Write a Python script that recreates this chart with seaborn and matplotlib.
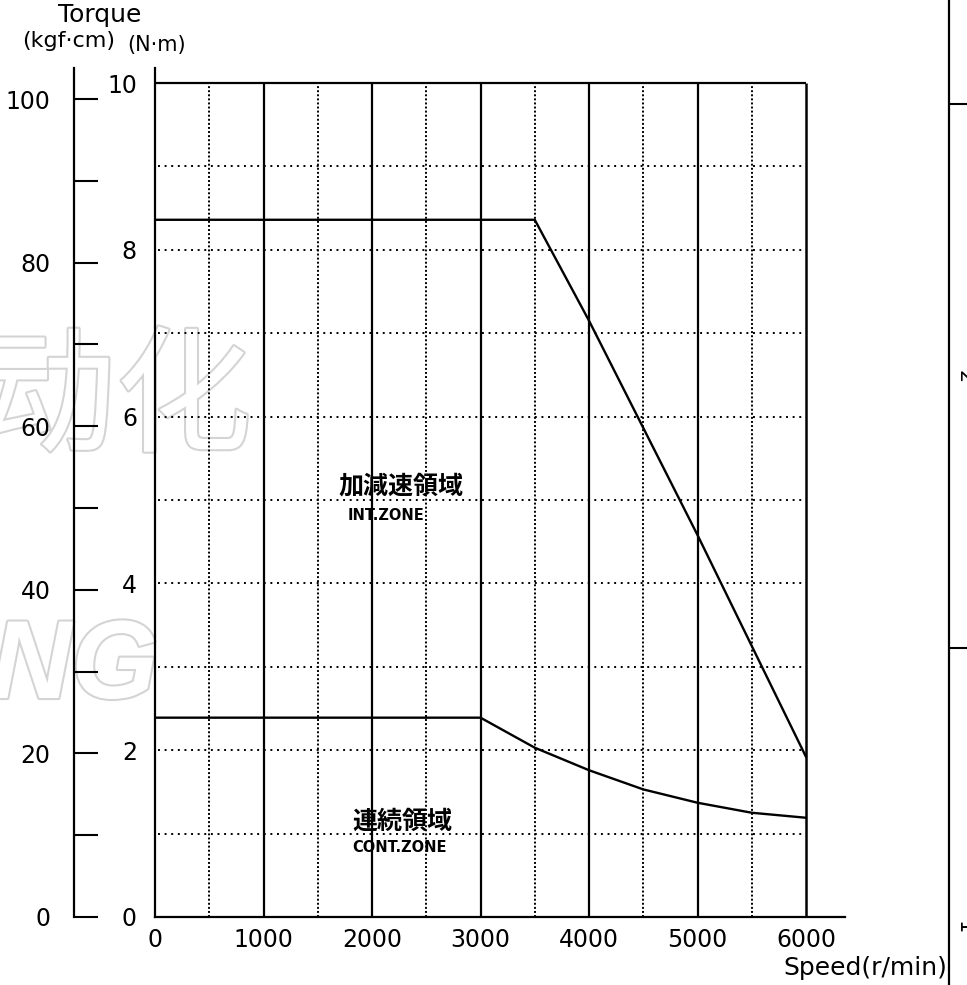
import numpy as np
import pandas as pd
import seaborn as sns
import matplotlib.pyplot as plt
import matplotlib.patheffects as pe

sns.set_theme(style='white', rc={'axes.edgecolor': 'black', 'text.color': 'black',
                                  'xtick.color': 'black', 'ytick.color': 'black'})
plt.rcParams['font.family'] = ['DejaVu Sans', 'Noto Sans CJK JP']

# torque curves (N·m)
peak_speed = [0, 3500, 4000, 5000, 6000]
peak_torque = [8.36, 8.36, 7.15, 4.58, 1.92]
cont_speed = [0, 3000, 3500, 4000, 4500, 5000, 5500, 6000]
cont_torque = [2.39, 2.39, 2.03, 1.76, 1.53, 1.37, 1.25, 1.19]

x_ticks = [0, 1000, 2000, 3000, 4000, 5000, 6000]
x_major_grid = [1000, 2000, 3000, 4000, 5000]
x_minor_grid = [500, 1500, 2500, 3500, 4500, 5500]
nm_ticks = [0, 2, 4, 6, 8, 10]
nm_grid = [1, 2, 3, 4, 5, 6, 7, 8, 9]
kgf_ticks = [0, 10, 20, 30, 40, 50, 60, 70, 80, 90, 100]
kgf_labels = ['0', '', '20', '', '40', '', '60', '', '80', '', '100']
KGF_PER_NM = 10.197

W, H = 967, 985
x_max = 6000 * 690 / 651
y_max = 849 / 83.4

fig = plt.figure(figsize=(W / 100, H / 100), dpi=100)
fig.patch.set_facecolor('white')

# watermark
fig.text(252 / W, 1 - 402 / H, '自动化', ha='right', va='center', fontsize=98,
         family=['Noto Sans CJK SC'], color='white', zorder=-5,
         path_effects=[pe.withStroke(linewidth=3, foreground='#d4d4d4')])
fig.text(158 / W, 1 - 698 / H, 'ING', ha='right', va='baseline', fontsize=80,
         family=['Liberation Sans', 'DejaVu Sans'], style='italic', fontweight='bold',
         color='white', zorder=-5,
         path_effects=[pe.withStroke(linewidth=3, foreground='#d4d4d4')])

ax = fig.add_axes([155 / W, 68 / H, 690 / W, 849 / H])
ax.set_facecolor('none')
ax.set_xlim(0, x_max)
ax.set_ylim(0, y_max)

ax.vlines(x_major_grid, 0, 10, color='black', lw=1.6)
ax.vlines(x_minor_grid, 0, 10, color='black', lw=1.4, linestyles=[(0, (1, 1.1))])
ax.hlines(nm_grid, 30, 5970, color='black', lw=1.4, linestyles=[(0, (1, 2.4))])
ax.hlines([10], 0, 6000, color='black', lw=1.6)
ax.vlines([6000], 0, 10, color='black', lw=1.8)

peak = pd.DataFrame({'speed': peak_speed, 'torque': peak_torque})
cont = pd.DataFrame({'speed': cont_speed, 'torque': cont_torque})
sns.lineplot(data=peak, x='speed', y='torque', ax=ax, color='black', lw=1.7, estimator=None, sort=False)
sns.lineplot(data=cont, x='speed', y='torque', ax=ax, color='black', lw=1.7, estimator=None, sort=False)

for s in ['top', 'right']:
    ax.spines[s].set_visible(False)
for s in ['left', 'bottom']:
    ax.spines[s].set_linewidth(1.6)

ax.set_xticks(x_ticks)
ax.set_xticklabels([str(v) for v in x_ticks], fontsize=17)
ax.set_yticks(nm_ticks)
ax.set_yticklabels([str(v) for v in nm_ticks], fontsize=17)
ax.tick_params(axis='x', length=0, pad=8)
ax.tick_params(axis='y', length=0, pad=13)
ax.set_xlabel('')
ax.set_ylabel('')

ax.text(1687, 5.16, '加減速領域', fontsize=18, family=['Noto Sans CJK JP'],
        fontweight='bold', ha='left', va='center')
ax.text(1779, 4.82, 'INT.ZONE', fontsize=10.5, fontweight='bold', ha='left', va='center')
ax.text(1816, 1.14, '連続領域', fontsize=18, family=['Noto Sans CJK JP'],
        fontweight='bold', ha='left', va='center')
ax.text(1816, 0.83, 'CONT.ZONE', fontsize=10.5, fontweight='bold', ha='left', va='center')

# kgf·cm scale
ax2 = fig.add_axes([74 / W, 68 / H, 20 / W, 849 / H])
ax2.set_facecolor('none')
ax2.set_ylim(0, y_max * KGF_PER_NM)
ax2.set_xticks([])
ax2.set_yticks(kgf_ticks)
ax2.set_yticklabels(kgf_labels, fontsize=17)
ax2.tick_params(axis='y', left=True, direction='in', length=17, width=1.5, pad=17)
for s in ['top', 'right', 'bottom']:
    ax2.spines[s].set_visible(False)
ax2.spines['left'].set_linewidth(1.6)

# edge of the neighbouring chart
ax3 = fig.add_axes([949 / W, 0, 30 / W, 1])
ax3.set_facecolor('none')
ax3.set_ylim(0, 1)
ax3.set_xticks([])
ax3.set_yticks([1 - 104 / H, 1 - 648 / H])
ax3.set_yticklabels([])
ax3.tick_params(axis='y', left=True, direction='in', length=18, width=1.5)
for s in ['top', 'right', 'bottom']:
    ax3.spines[s].set_visible(False)
ax3.spines['left'].set_linewidth(1.6)
fig.text(954 / W, 1 - 377 / H, '2', rotation=-90, fontsize=15, ha='left', va='center')
fig.text(954 / W, 1 - 928 / H, '1', rotation=-90, fontsize=15, ha='left', va='center')

fig.text(100 / W, 1 - 15 / H, 'Torque', fontsize=18, ha='center', va='center')
fig.text(22 / W, 1 - 41 / H, '(kgf·cm)', fontsize=16, ha='left', va='center')
fig.text(127 / W, 1 - 45 / H, '(N·m)', fontsize=15, ha='left', va='center')
fig.text(947 / W, 1 - 968 / H, 'Speed(r/min)', fontsize=18, ha='right', va='center')

fig.savefig('out.png', dpi=100)
